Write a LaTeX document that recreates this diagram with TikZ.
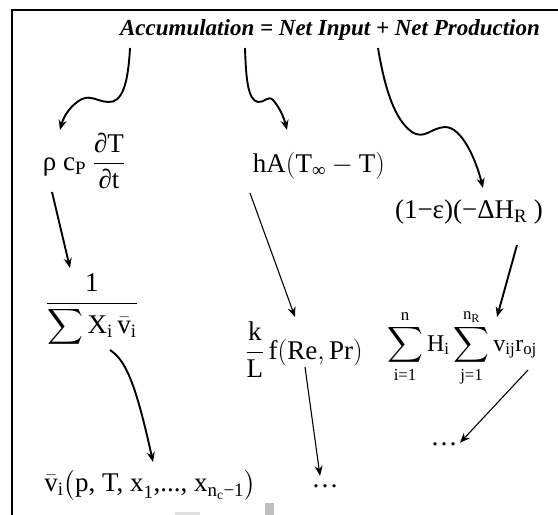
\RequirePackage{fix-cm}
\documentclass[tikz,border=0pt]{standalone}
\usepackage{amsmath}
\usepackage{fontspec}
\setmainfont{Liberation Serif}
\usetikzlibrary{arrows.meta,calc}
\newcommand{\up}[1]{\text{#1}}

\begin{document}
\begin{tikzpicture}[x=1pt,y=1pt,>={Stealth[length=10pt,width=8pt]},
  heavy/.style={line width=1.9pt},
  light/.style={line width=1.1pt},
  term/.style={inner sep=0pt,font=\fontsize{27}{31}\selectfont}]
\useasboundingbox (0,0) rectangle (558,-515);
\draw[line width=1.6pt] (12,-515) -- (12,-10) -- (558,-10);
\fill[gray!25] (175,-512) rectangle (200,-515);
\fill[gray!50] (265,-503) rectangle (274,-515);

\node[inner sep=0pt,font=\fontsize{23}{27}\selectfont\bfseries\itshape] (title) at (330,-30) {Accumulation = Net Input + Net Production};
\coordinate (accum) at ($(title)+(-200,-18)$);
\coordinate (input) at ($(title)+(-85,-18)$);
\coordinate (prod) at ($(title)+(48,-18)$);

\node[term] (rhocp) at (84,-161) {$\displaystyle \up{ρ}\ \up{c}_{\up{P}}\ \frac{\up{∂T}}{\up{∂t}}$};
\node[term] (ha) at (319,-166) {$\up{hA}(\up{T}_{\up{∞}}-\up{T})$};
\node[term] (eps) at (469,-212) {\up{(1−ε)(−ΔH}$_{\up{R}}$\up{ )}};
\node[term] (frac) at (92,-310) {$\displaystyle\frac{\up{1}}{\displaystyle\sum\up{X}_{\up{i}}\,\bar{\up{v}}_{\up{i}}}$};
\node[term] (kl) at (304,-350) {$\displaystyle\frac{\up{k}}{\up{L}}\,\up{f}(\up{Re},\up{Pr})$};
\node[term,font=\fontsize{24}{28}\selectfont] (sums) at (462,-348) {$\displaystyle\sum_{\up{i=1}}^{\up{n}}\up{H}_{\up{i}}\sum_{\up{j=1}}^{\up{n}_{\up{R}}}\up{v}_{\up{ij}}\up{r}_{\up{oj}}$};
\node[term,anchor=base] (dotsa) at (444,-445) {\up{…}};
\node[term,anchor=base] (dotsb) at (325,-487) {\up{…}};
\node[term] (vbar) at (150,-485) {$\bar{\up{v}}_{\up{i}}\bigl(\up{p, T, x}_{\up{1}}\up{,..., x}_{\up{n}_{\up{c}}\up{−1}}\bigr)$};

\draw[heavy,->] (accum) .. controls (128,-85) and (122,-103) .. (108,-102)
  .. controls (96,-101) and (92,-95) .. (82,-99) .. controls (72,-104) and (64,-115) .. ($(rhocp)+(-24,31)$);
\draw[heavy,->] (input) .. controls (246,-80) and (248,-100) .. (258,-102)
  .. controls (264,-103) and (268,-95) .. (273,-100) .. controls (280,-108) and (284,-118) .. ($(ha)+(-32,36)$);
\draw[heavy,->] (prod) .. controls (385,-90) and (395,-120) .. (412,-132)
  .. controls (425,-140) and (430,-128) .. (445,-127) .. controls (462,-127) and (476,-160) .. ($(eps)+(14,24)$);
\draw[heavy,->] ($(rhocp)+(-32,-31)$) -- ($(frac)+(-22,42)$);
\draw[light,->] ($(ha)+(-69,-27)$) -- ($(kl)+(-9,33)$);
\draw[heavy,->] ($(eps)+(48,-33)$) -- ($(sums)+(35,31)$);
\draw[heavy,->] ($(frac)+(18,-40)$) .. controls (125,-360) and (135,-380) .. ($(vbar)+(3,23)$);
\draw[light,->] ($(kl)+(1,-17)$) -- ($(dotsb)+(-5,10)$);
\draw[light,->] ($(sums)+(66,-22)$) -- ($(dotsa)+(16,1)$);
\end{tikzpicture}
\end{document}
